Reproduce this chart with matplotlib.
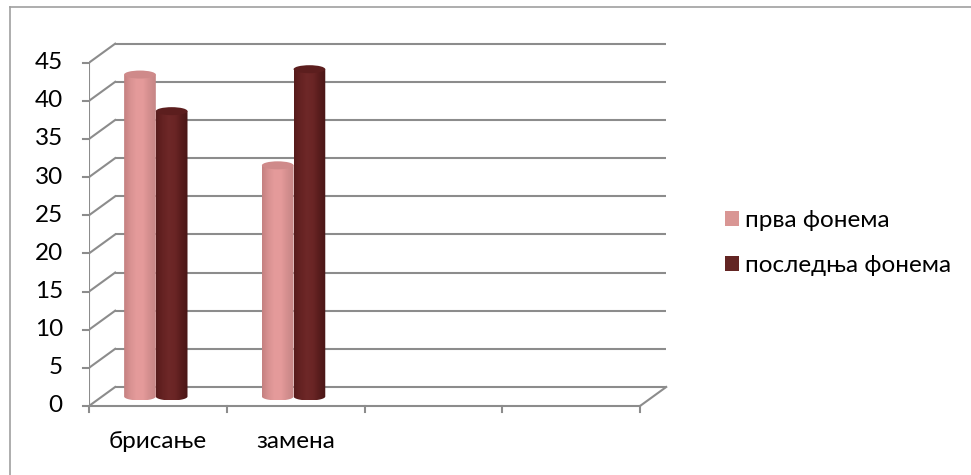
import numpy as np
import matplotlib
matplotlib.use('Agg')
import matplotlib.pyplot as plt
from matplotlib.patches import Ellipse, PathPatch, Patch
from matplotlib.path import Path
from matplotlib.colors import LinearSegmentedColormap

# ------------------------------------------------------------
# data
# ------------------------------------------------------------
categories = ['брисање', 'замена', '', '']
series_names = ['прва фонема', 'последња фонема']
prva = [42.2, 30.3]
posledna = [37.4, 42.9]
y_ticks = list(range(0, 50, 5))

# ------------------------------------------------------------
# style
# ------------------------------------------------------------
plt.rcParams['font.family'] = ['Lato', 'DejaVu Sans']
FS = 17.5
GRID = '#8c8c8c'
LEGEND_COLORS = ['#d99694', '#632523']
# left edge -> highlight -> right edge of each cylinder
SHADES = [
    ['#c48080', '#d99292', '#e59b9b', '#e49a9a', '#d38e8e', '#c58585'],
    ['#561b1b', '#652222', '#6e2828', '#6a2525', '#571c1c', '#4a1616'],
]
TOPS = ['#cf8a8a', '#5c1e1e']

DX, DY = 0.19, 2.49          # depth offset of back wall (x cats, y units)
BAR_W = 0.23
BAR_OFF = [0.37, 0.60]       # bar centre within a category
ELL_H = 1.05                 # cylinder cap height in y units
YB = DY / 2                  # bars stand in the middle of the floor

fig = plt.figure(figsize=(9.71, 4.75), dpi=100)
W, H = 971, 475
ax = fig.add_axes([89 / W, (H - 413.6) / H, 578.6 / W, 373.8 / H])
ax.set_xlim(0, 4.2)
ax.set_ylim(-1, 48)
ax.axis('off')

n_cat = len(categories)
top = y_ticks[-1]

# back wall gridlines + left wall diagonals
for v in y_ticks:
    ax.plot([DX, n_cat + DX], [v + DY, v + DY], color=GRID, lw=1.5,
            solid_capstyle='butt', zorder=1)
    ax.plot([0, DX], [v, v + DY], color=GRID, lw=1.5, zorder=1)
    ax.plot([-0.045, 0], [v, v], color=GRID, lw=1.5, clip_on=False, zorder=1)

# front vertical axis and floor
ax.plot([0, 0], [0, top], color=GRID, lw=1.5, zorder=1)
ax.plot([0, n_cat], [0, 0], color=GRID, lw=1.5, zorder=1)
ax.plot([n_cat, n_cat + DX], [0, DY], color=GRID, lw=1.5, zorder=1)
for i in range(n_cat + 1):
    ax.plot([i, i], [0, -0.85], color=GRID, lw=1.5, clip_on=False, zorder=1)

# tick labels
for v in y_ticks:
    ax.text(-0.19, v, str(v), ha='right', va='center', fontsize=FS,
            color='black')
for i, c in enumerate(categories):
    if c:
        ax.text(i + 0.5, -4.6, c, ha='center', va='center', fontsize=FS,
                color='black')


def cylinder(cx, value, shades, top_color, z):
    x0, x1 = cx - BAR_W / 2, cx + BAR_W / 2
    yt = YB + value
    # body outline: straight sides plus the front half of the base ellipse
    t = np.linspace(np.pi, 2 * np.pi, 60)
    ex = cx + BAR_W / 2 * np.cos(t)
    ey = YB + ELL_H / 2 * np.sin(t)
    verts = [(x0, yt)] + list(zip(ex, ey)) + [(x1, yt), (x0, yt)]
    codes = [Path.MOVETO] + [Path.LINETO] * (len(verts) - 2) + [Path.CLOSEPOLY]
    clip = PathPatch(Path(verts, codes), facecolor='none', edgecolor='none',
                     transform=ax.transData)
    ax.add_patch(clip)
    cmap = LinearSegmentedColormap.from_list('cyl', shades)
    grad = np.linspace(0, 1, 256).reshape(1, -1)
    im = ax.imshow(grad, cmap=cmap, aspect='auto', interpolation='bilinear',
                   extent=[x0, x1, YB - ELL_H / 2, yt], zorder=z)
    im.set_clip_path(clip)
    ax.add_patch(Ellipse((cx, yt), BAR_W, ELL_H, facecolor=top_color,
                         edgecolor='none', zorder=z + 0.1))


for i in range(len(prva)):
    for s, vals in enumerate([prva, posledna]):
        cylinder(i + BAR_OFF[s], vals[i], SHADES[s], TOPS[s], 3 + s)

ax.set_xlim(0, 4.2)
ax.set_ylim(-1, 48)

# legend
handles = [Patch(facecolor=c, edgecolor='none') for c in LEGEND_COLORS]
fig.legend(handles, series_names, loc='center left',
           bbox_to_anchor=(720 / W, 1 - 243 / H), frameon=False,
           fontsize=FS, handlelength=0.6, handleheight=0.6,
           handletextpad=0.22, labelspacing=1.0, borderpad=0.2,
           borderaxespad=0)

# outer chart border (left and top visible)
fig.add_artist(plt.Line2D([9.5 / W, 9.5 / W], [0, 1 - 6.5 / H],
                          color='#a0a0a0', lw=1.2))
fig.add_artist(plt.Line2D([9.5 / W, 1], [1 - 6.5 / H, 1 - 6.5 / H],
                          color='#a0a0a0', lw=1.2))

fig.savefig('out.png', dpi=100)
plt.close(fig)
